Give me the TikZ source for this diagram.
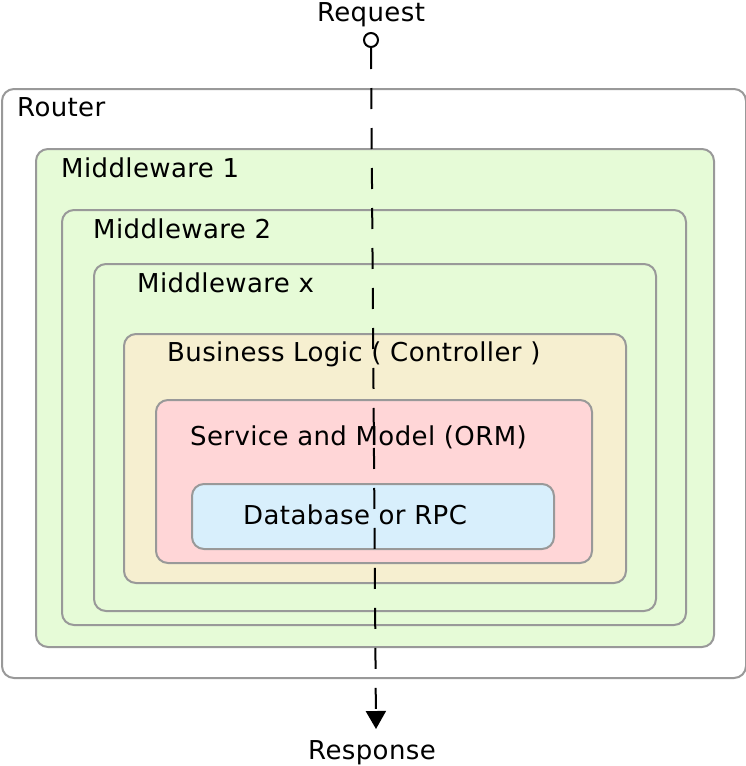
\documentclass[tikz,border=0pt]{standalone}
\usepackage{fontspec}
\setmainfont{DejaVu Sans}[LetterSpace=1.5]
\usetikzlibrary{arrows.meta, positioning}

\definecolor{boxline}{HTML}{999999}
\definecolor{mwgreen}{HTML}{E6FBD7}
\definecolor{logicbeige}{HTML}{F6EFD0}
\definecolor{ormpink}{HTML}{FFD6D7}
\definecolor{dbblue}{HTML}{D8EFFC}

\begin{document}
\begin{tikzpicture}[x=1pt, y=-1pt, font=\fontsize{26}{31}\selectfont,
    layer/.style={rectangle, draw=boxline, line width=2pt, rounded corners=12pt, anchor=north west, inner sep=0pt},
    title/.style={anchor=base west, inner sep=0pt}]
    \useasboundingbox (0,0) rectangle (746,766);

    \node [layer, fill=white, minimum width=744pt, minimum height=589pt] (router) at (1,88) {};
    \node [layer, fill=mwgreen, minimum width=678pt, minimum height=498pt] (mwone) at (35,148) {};
    \node [layer, fill=mwgreen, minimum width=624pt, minimum height=415pt] (mwtwo) at (61,209) {};
    \node [layer, fill=mwgreen, minimum width=562pt, minimum height=347pt] (mwx) at (93,263) {};
    \node [layer, fill=logicbeige, minimum width=502pt, minimum height=249pt] (logic) at (123,333) {};
    \node [layer, fill=ormpink, minimum width=436pt, minimum height=163pt] (orm) at (155,399) {};
    \node [layer, fill=dbblue, minimum width=362pt, minimum height=65pt] (db) at (191,483) {};

    \node [title] (routerlabel) at (17,116) {Router};
    \node [title] (mwonelabel) at (61,177) {Middleware 1};
    \node [title] (mwtwolabel) at (93,238) {Middleware 2};
    \node [title] (mwxlabel) at (137,292) {Middleware x};
    \node [title] (logiclabel) at (167,361) {Business Logic ( Controller )};
    \node [title] (ormlabel) at (190,445) {Service and Model (ORM)};
    \node [title] (dblabel) at (243,524) {Database or RPC};

    \node [anchor=base, inner sep=0pt] (request) at (371,21) {Request};
    \node [anchor=base, inner sep=0pt] (response) at (372,759) {Response};
    \node [circle, draw, fill=white, line width=2pt, minimum size=14pt, inner sep=0pt] (pin) at (371,40) {};
    \coordinate (tip) at (376,729);

    \draw [line width=2pt, dash pattern=on 21pt off 19pt, -{Triangle[length=18pt, width=20pt]}] (pin.south) -- (tip);
\end{tikzpicture}
\end{document}
